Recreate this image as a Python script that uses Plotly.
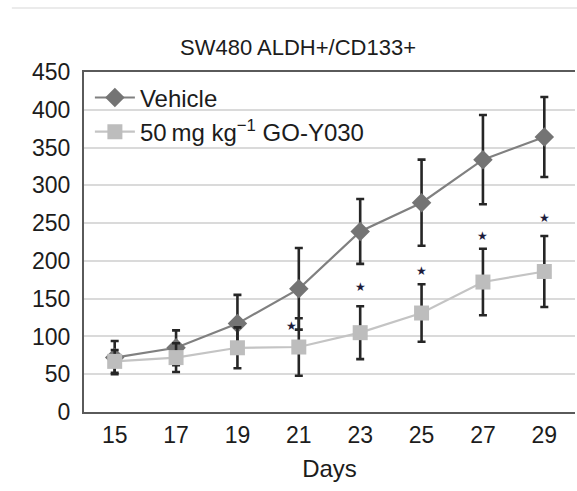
import plotly.graph_objects as go

# Tumour volume over time, SW480 ALDH+/CD133+ xenografts
days = ["15", "17", "19", "21", "23", "25", "27", "29"]
vehicle = [72, 85, 117, 163, 239, 277, 334, 364]
vehicle_err = [22, 23, 38, 54, 43, 57, 59, 53]
treated = [67, 72, 85, 86, 105, 131, 172, 186]
treated_err = [15, 19, 27, 38, 35, 38, 44, 47]
# significance markers (day, height)
star_days = ["21", "23", "25", "27", "29"]
star_y = [114, 165, 187, 233, 257]
y_ticks = [0, 50, 100, 150, 200, 250, 300, 350, 400, 450]

FONT = "Liberation Sans, Arial, Helvetica, sans-serif"
TXT = "#1c1c1c"

fig = go.Figure()

fig.add_trace(go.Scatter(
    x=days, y=vehicle, name="Vehicle", mode="lines+markers",
    legendgroup="a",
    line=dict(color="#808080", width=2.2),
    marker=dict(symbol="diamond", size=15, color="#747474"),
    error_y=dict(type="data", array=vehicle_err, visible=True,
                 color="#262626", thickness=2.6, width=4),
))
fig.add_trace(go.Scatter(
    x=days, y=treated, name="50\u2009mg kg<sup>\u22121</sup> GO-Y030",
    mode="lines+markers", legendgroup="b",
    line=dict(color="#c4c4c4", width=2.2),
    marker=dict(symbol="square", size=15, color="#bdbdbd"),
    error_y=dict(type="data", array=treated_err, visible=True,
                 color="#262626", thickness=2.6, width=4),
))

# asterisks; the day-21 one sits a little left of its error bar
for d, v in zip(star_days, star_y):
    fig.add_annotation(x=days.index(d), y=v, text="\u2605", showarrow=False,
                       xshift=-7 if d == "21" else 0,
                       font=dict(family="DejaVu Sans", size=12, color="#1c1c3c"))

fig.add_shape(type="line", xref="paper", yref="paper",
              x0=-0.147, x1=1.01, y0=1.188, y1=1.188,
              line=dict(color="#e4e4e4", width=1.5))

fig.update_layout(
    width=577, height=491,
    margin=dict(l=84, r=2, t=72, b=79),
    paper_bgcolor="white", plot_bgcolor="white",
    font=dict(family=FONT, size=23, color=TXT),
    title=dict(text="SW480 ALDH+/CD133+", x=298 / 577, xanchor="center",
               y=1 - 47 / 491, yanchor="middle",
               font=dict(family=FONT, size=22, color=TXT)),
    showlegend=True,
    legend=dict(x=0.012, y=0.99, xanchor="left", yanchor="top",
                bgcolor="rgba(0,0,0,0)", font=dict(size=24, color=TXT),
                tracegroupgap=0, itemwidth=40),
)
fig.update_xaxes(
    type="category", range=[-0.5, 7.5],
    showline=True, linecolor="#5a5a5a", linewidth=2, mirror=True,
    showgrid=False, ticks="", ticklabelstandoff=1,
    title=dict(text="Days", font=dict(size=24, color=TXT), standoff=14),
    tickfont=dict(size=23, color=TXT),
)
fig.update_yaxes(
    range=[0, 450], tickvals=y_ticks,
    showline=True, linecolor="#5a5a5a", linewidth=2,
    showgrid=True, gridcolor="#dadada", gridwidth=1.6,
    zeroline=False, ticks="", ticklabelstandoff=7,
    tickfont=dict(size=23, color=TXT),
)

fig.write_html("out.html")
